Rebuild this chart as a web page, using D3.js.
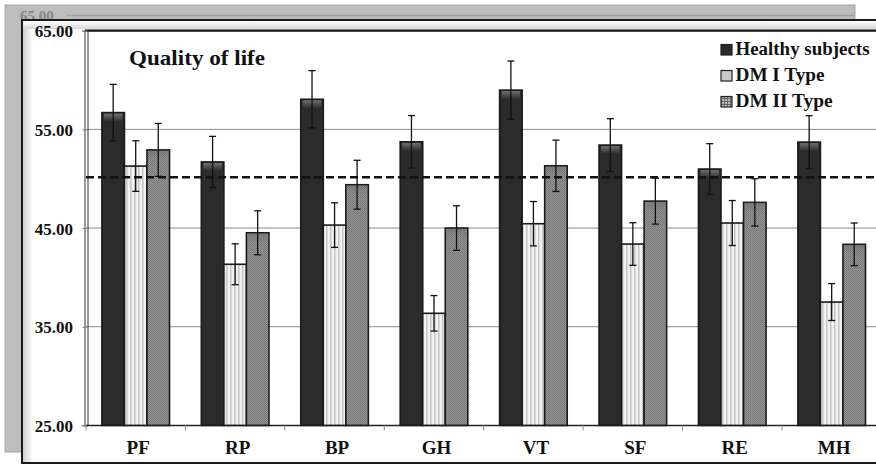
<!DOCTYPE html>
<html><head><meta charset="utf-8">
<script src="https://cdn.jsdelivr.net/npm/d3@7"></script>
<style>html,body{margin:0;padding:0;background:#fff;overflow:hidden}svg{display:block}text{font-family:"Liberation Serif","Times New Roman",serif;font-weight:bold}</style>
</head><body><svg id="c" width="876" height="468"></svg>
<script>
const categories = ["PF","RP","BP","GH","VT","SF","RE","MH"];
const seriesNames = ["Healthy subjects","DM I Type","DM II Type"];
const healthy = [56.7, 51.7, 58.05, 53.74, 58.98, 53.41, 50.98, 53.71];
const dm1 = [51.28, 41.33, 45.3, 36.36, 45.44, 43.38, 45.51, 37.5];
const dm2 = [52.92, 44.52, 49.39, 45.0, 51.31, 47.73, 47.6, 43.35];
const errHealthy = [2.86, 2.59, 2.9, 2.66, 2.95, 2.67, 2.57, 2.68];
const errDm1 = [2.56, 2.07, 2.26, 1.8, 2.25, 2.16, 2.28, 1.87];
const errDm2 = [2.68, 2.23, 2.48, 2.26, 2.6, 2.33, 2.4, 2.16];
const yTicks = [25, 35, 45, 55, 65];
const refLine = 50.15;
const title = "Quality of  life";

const svg = d3.select("#c");
const defs = svg.append("defs");
// patterns
const p1 = defs.append("pattern").attr("id","pDm1").attr("patternUnits","userSpaceOnUse").attr("width",4).attr("height",4);
p1.append("rect").attr("width",4).attr("height",4).attr("fill","#f2f2f2");
p1.append("rect").attr("x",2).attr("width",1.5).attr("height",4).attr("fill","#c4c4c4");
const p2 = defs.append("pattern").attr("id","pDm2").attr("patternUnits","userSpaceOnUse").attr("width",2).attr("height",2);
p2.append("rect").attr("width",2).attr("height",2).attr("fill","#959595");
p2.append("rect").attr("width",1).attr("height",1).attr("fill","#727272");
p2.append("rect").attr("x",1).attr("y",1).attr("width",1).attr("height",1).attr("fill","#7c7c7c");
const p3 = defs.append("pattern").attr("id","pLeg2").attr("patternUnits","userSpaceOnUse").attr("width",3).attr("height",3);
p3.append("rect").attr("width",3).attr("height",3).attr("fill","#bbb");
p3.append("rect").attr("width",1).attr("height",3).attr("fill","#666");
p3.append("rect").attr("width",3).attr("height",1).attr("fill","#666");
const gTop = defs.append("linearGradient").attr("id","gTop").attr("x1",0).attr("x2",0).attr("y1",0).attr("y2",1);
gTop.append("stop").attr("offset","0%").attr("stop-color","#777").attr("stop-opacity",0.9);
gTop.append("stop").attr("offset","100%").attr("stop-color","#777").attr("stop-opacity",0);
const gLeft = defs.append("linearGradient").attr("id","gLeft").attr("x1",0).attr("x2",1).attr("y1",0).attr("y2",0);
gLeft.append("stop").attr("offset","0%").attr("stop-color","#d0d0d0");
gLeft.append("stop").attr("offset","100%").attr("stop-color","#fff");
const gTopBand = defs.append("linearGradient").attr("id","gTopBand").attr("x1",0).attr("x2",0).attr("y1",0).attr("y2",1);
gTopBand.append("stop").attr("offset","0%").attr("stop-color","#fff");
gTopBand.append("stop").attr("offset","100%").attr("stop-color","#d8d8d8");

// background ghost panel
svg.append("rect").attr("x",5).attr("y",5).attr("width",850).attr("height",447).attr("fill","#bdbdbd").attr("stroke","#a5a5a5");
svg.append("text").attr("x",20).attr("y",20.5).attr("font-size",15).attr("fill","#858585").text("65.00");
svg.append("line").attr("x1",67).attr("x2",855).attr("y1",15.5).attr("y2",15.5).attr("stroke","#a0a0a0").attr("stroke-width",1.5);

// front frame
svg.append("rect").attr("x",22).attr("y",20).attr("width",870).attr("height",443).attr("fill","#fff").attr("stroke","#1a1a1a").attr("stroke-width",2);
svg.append("rect").attr("x",23).attr("y",21).attr("width",10).attr("height",441).attr("fill","url(#gLeft)");
svg.append("rect").attr("x",23).attr("y",21).attr("width",860).attr("height",8).attr("fill","url(#gTopBand)");

const plotL = 86, plotR = 881.4, plotT = 30.7, plotB = 425.4;
const y = d3.scaleLinear().domain([25,65]).range([plotB, plotT]);
const x0 = d3.scaleBand().domain(categories).range([plotL, plotR]).paddingInner(0.32).paddingOuter(0.16);
const x1 = d3.scaleBand().domain(seriesNames).range([0, x0.bandwidth()]);

// grid
svg.append("g").selectAll("line").data(yTicks.filter(t => t > 25 && t < 65)).join("line")
  .attr("x1", plotL).attr("x2", plotR).attr("y1", d => y(d)).attr("y2", d => y(d))
  .attr("stroke","#8a8a8a").attr("stroke-width",1);

// plot border
svg.append("line").attr("x1",plotL-1).attr("x2",plotR).attr("y1",y(65)).attr("y2",y(65)).attr("stroke","#111").attr("stroke-width",2.2);
svg.append("line").attr("x1",plotL-1).attr("x2",plotL-1).attr("y1",y(65)).attr("y2",plotB).attr("stroke","#333").attr("stroke-width",1);

// y axis
const yAxis = d3.axisLeft(y).tickValues(yTicks).tickFormat(d3.format(".2f")).tickSize(5).tickPadding(9.5);
const ga = svg.append("g").attr("transform",`translate(${plotL+1.5},0)`).call(yAxis);
ga.select(".domain").attr("stroke","#333").attr("stroke-width",1);
ga.selectAll(".tick line").attr("stroke","#888");
ga.selectAll("text").attr("font-size",17).attr("fill","#111").attr("font-family","Liberation Serif").attr("font-weight","bold").attr("dy","0.35em");

// x axis
const xb = svg.append("g").attr("transform",`translate(0,${plotB})`);
xb.append("line").attr("x1",plotL).attr("x2",plotR).attr("stroke","#222").attr("stroke-width",1.5);
const step = x0.step();
xb.selectAll("line.tk").data(categories).join("line").attr("class","tk")
  .attr("x1", d => x0(d) - x0.paddingOuter()*step).attr("x2", d => x0(d) - x0.paddingOuter()*step)
  .attr("y1",0).attr("y2",5).attr("stroke","#888");
xb.selectAll("text").data(categories).join("text")
  .attr("x", d => x0(d) + x0.bandwidth()/2 + 2.5).attr("y", 28.5)
  .attr("text-anchor","middle").attr("font-size",19).attr("fill","#111").text(d => d);

// bars
const rows = categories.map((c,i) => [
  {cat:c, s:seriesNames[0], v:healthy[i], e:errHealthy[i], fill:"#2b2b2b"},
  {cat:c, s:seriesNames[1], v:dm1[i], e:errDm1[i], fill:"url(#pDm1)"},
  {cat:c, s:seriesNames[2], v:dm2[i], e:errDm2[i], fill:"url(#pDm2)"}
]).flat();
const gb = svg.append("g");
gb.selectAll("rect.bar").data(rows).join("rect").attr("class","bar")
  .attr("x", d => x0(d.cat) + x1(d.s)).attr("width", x1.bandwidth())
  .attr("y", d => y(d.v)).attr("height", d => plotB - y(d.v))
  .attr("fill", d => d.fill).attr("stroke","#1a1a1a").attr("stroke-width",1.6);
gb.selectAll("rect.hl").data(rows.filter(d => d.s !== seriesNames[1])).join("rect").attr("class","hl")
  .attr("x", d => x0(d.cat) + x1(d.s) + 2).attr("width", x1.bandwidth() - 4)
  .attr("y", d => y(d.v) + 1).attr("height", 8).attr("fill","url(#gTop)");

// error bars
const ge = svg.append("g").attr("stroke","#111").attr("stroke-width",1.3);
ge.selectAll("line.v").data(rows).join("line").attr("class","v")
  .attr("x1", d => x0(d.cat) + x1(d.s) + x1.bandwidth()/2).attr("x2", d => x0(d.cat) + x1(d.s) + x1.bandwidth()/2)
  .attr("y1", d => y(d.v + d.e)).attr("y2", d => y(d.v - d.e));
["+","-"].forEach(sg => {
  ge.selectAll("line.c"+(sg==="+"?"t":"b")).data(rows).join("line").attr("class","c"+(sg==="+"?"t":"b"))
    .attr("x1", d => x0(d.cat) + x1(d.s) + x1.bandwidth()/2 - 3.5).attr("x2", d => x0(d.cat) + x1(d.s) + x1.bandwidth()/2 + 3.5)
    .attr("y1", d => y(sg==="+" ? d.v + d.e : d.v - d.e)).attr("y2", d => y(sg==="+" ? d.v + d.e : d.v - d.e));
});

// reference dashed line
svg.append("line").attr("x1",plotL).attr("x2",plotR).attr("y1",y(refLine)).attr("y2",y(refLine))
  .attr("stroke","#111").attr("stroke-width",2.4).attr("stroke-dasharray","8,4");

// title
svg.append("text").attr("x",129).attr("y",65).attr("font-size",21).attr("fill","#111")
  .attr("textLength",136).attr("lengthAdjust","spacingAndGlyphs").text(title);

// legend
const legFills = ["#2b2b2b","#c8c8c8","url(#pLeg2)"];
const lg = svg.append("g").selectAll("g").data(seriesNames).join("g")
  .attr("transform",(d,i) => `translate(721,${55 + i*26})`);
lg.append("rect").attr("x",0).attr("y",-10.5).attr("width",11).attr("height",10.5)
  .attr("fill",(d,i) => legFills[i]).attr("stroke","#222").attr("stroke-width",1.2);
lg.append("text").attr("x",14.5).attr("y",0).attr("font-size",18.5).attr("fill","#111")
  .attr("textLength",(d,i) => [134,89,97][i]).attr("lengthAdjust","spacingAndGlyphs").text(d => d);
</script></body></html>
